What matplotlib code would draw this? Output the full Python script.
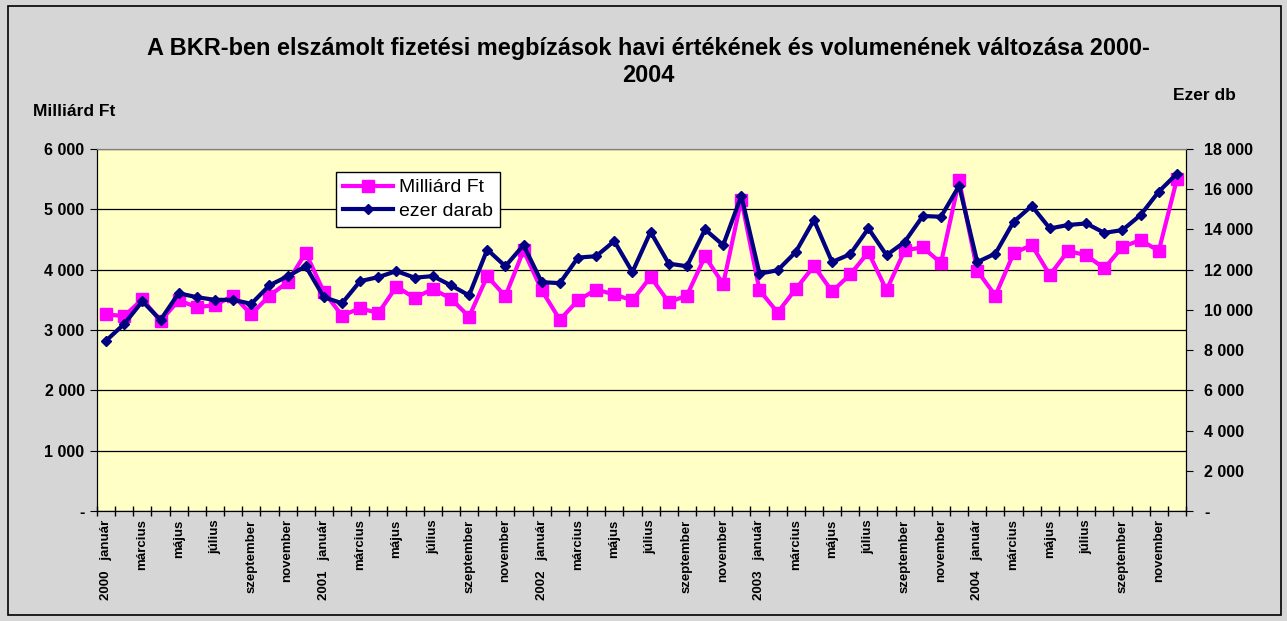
import numpy as np
import matplotlib.pyplot as plt
from matplotlib.patches import Rectangle

plt.rcParams['font.family'] = ['Liberation Sans', 'DejaVu Sans']

years = [2000, 2001, 2002, 2003, 2004]
months = ['január', 'február', 'március', 'április', 'május', 'június',
          'július', 'augusztus', 'szeptember', 'október', 'november', 'december']

# Milliárd Ft (left axis), monthly 2000-2004
milliard_ft = [3260, 3230, 3510, 3150, 3490, 3380, 3410, 3570, 3260, 3570, 3790, 4280,
               3630, 3240, 3360, 3280, 3720, 3530, 3680, 3520, 3220, 3890, 3560, 4320,
               3660, 3170, 3490, 3670, 3590, 3490, 3880, 3460, 3570, 4220, 3760, 5160,
               3660, 3290, 3680, 4060, 3640, 3920, 4290, 3660, 4320, 4370, 4110, 5480,
               3980, 3570, 4270, 4410, 3910, 4310, 4240, 4020, 4380, 4490, 4310, 5500]

# ezer darab (right axis)
ezer_darab = [8470, 9300, 10430, 9500, 10830, 10630, 10500, 10500, 10300, 11220, 11670, 12170,
              10630, 10330, 11430, 11630, 11930, 11600, 11680, 11220, 10720, 13000, 12170, 13220,
              11380, 11330, 12600, 12670, 13420, 11880, 13880, 12300, 12170, 14000, 13220, 15670,
              11800, 11970, 12880, 14470, 12380, 12770, 14050, 12720, 13380, 14670, 14630, 16170,
              12380, 12800, 14380, 15170, 14050, 14220, 14300, 13830, 13970, 14720, 15880, 16770]

labels = []
for y in years:
    for m, name in enumerate(months):
        if m == 0:
            labels.append(f'{y}   {name}')
        elif m % 2 == 0:
            labels.append(name)
        else:
            labels.append('')

n = len(milliard_ft)
x = np.arange(n) + 0.5


def fmt(v, pos=None):
    if v == 0:
        return '-'
    return f'{v:,.0f}'.replace(',', ' ')


fig = plt.figure(figsize=(12.87, 6.21), dpi=100, facecolor='#d6d6d6')
ax = fig.add_axes([97 / 1287, 1 - 511 / 621, (1186 - 97) / 1287, (511 - 149) / 621])
ax.set_facecolor('#ffffc6')
ax2 = ax.twinx()

fig.patches.append(Rectangle((8 / 1287, 6 / 621), 1 - 14 / 1287, 1 - 12 / 621,
                             transform=fig.transFigure, fill=False,
                             edgecolor='black', linewidth=1.2))

l1, = ax.plot(x, milliard_ft, color='#ff00ff', linewidth=3, marker='s',
              markersize=8.5, label='Milliárd Ft', zorder=3)
l2, = ax2.plot(x, ezer_darab, color='#000080', linewidth=3, marker='D',
               markersize=5.5, label='ezer darab', zorder=4)

ax.set_xlim(0, n)
ax.set_ylim(0, 6000)
ax2.set_ylim(0, 18000)
ax.set_yticks(np.arange(0, 6001, 1000))
ax2.set_yticks(np.arange(0, 18001, 2000))
ax.yaxis.set_major_formatter(plt.FuncFormatter(fmt))
ax2.yaxis.set_major_formatter(plt.FuncFormatter(fmt))
ax.grid(axis='y', color='black', linewidth=0.9)
ax.set_axisbelow(True)

ax.set_xticks(np.arange(0, n + 1))
ax.set_xticklabels([])
ax.set_xticks(x, minor=True)
ax.set_xticklabels(labels, minor=True, rotation=90, fontsize=9.5,
                   fontweight='bold', va='top', ha='center')
ax.tick_params(axis='x', which='major', direction='inout', length=7, width=1)
ax.tick_params(axis='x', which='minor', length=0, pad=6)
ax.tick_params(axis='y', direction='out', length=5, labelsize=11.5, pad=4)
ax2.tick_params(axis='y', direction='out', length=5, labelsize=11.5, pad=8)
for t in ax.get_yticklabels() + ax2.get_yticklabels():
    t.set_fontweight('bold')

for a in (ax, ax2):
    a.spines['top'].set_color('#808080')
    a.spines['left'].set_color('black')
    a.spines['right'].set_color('black')
    a.spines['bottom'].set_color('black')

leg = ax2.legend(handles=[l1, l2], loc='upper left',
                 bbox_to_anchor=(336 / 1287, 1 - 172 / 621), bbox_transform=fig.transFigure,
                 fontsize=14, frameon=True, fancybox=False, edgecolor='black',
                 framealpha=1, borderpad=0.35, handlelength=2.6, labelspacing=0.3,
                 handletextpad=0.3, borderaxespad=0)
leg.get_frame().set_linewidth(1)

fig.text(648 / 1287, 1 - 62 / 621,
         'A BKR-ben elszámolt fizetési megbízások havi értékének és volumenének változása 2000-\n2004',
         ha='center', va='center', fontsize=16.9, fontweight='bold', linespacing=1.2)
fig.text(33 / 1287, 1 - 111 / 621, 'Milliárd Ft', ha='left', va='center',
         fontsize=12.5, fontweight='bold')
fig.text(1204 / 1287, 1 - 95 / 621, 'Ezer db', ha='center', va='center',
         fontsize=12.5, fontweight='bold')

fig.savefig('out.png', dpi=100, facecolor=fig.get_facecolor())
